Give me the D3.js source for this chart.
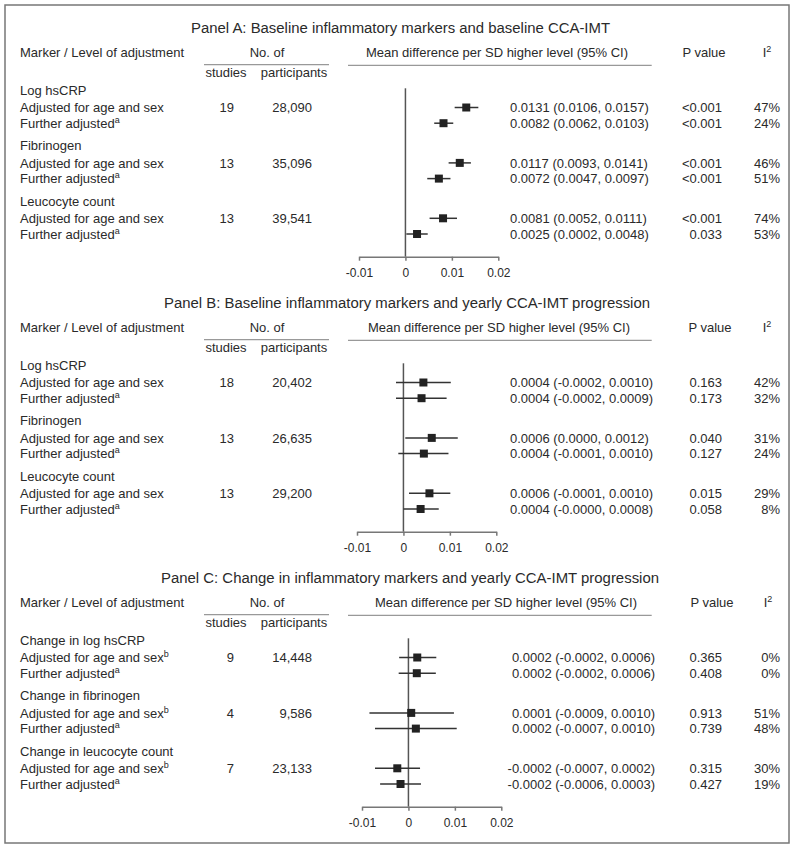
<!DOCTYPE html>
<html><head><meta charset="utf-8">
<script src="https://cdn.jsdelivr.net/npm/d3@7"></script>
<style>
body{margin:0;background:#fff;}
text{font-family:"Liberation Sans",Arial,Helvetica,sans-serif;fill:#2a2a2a;}
</style></head>
<body><svg id="chart" width="800" height="850"></svg>
<script>
// ---------- DATA ----------
const panelTitles = [
  "Panel A: Baseline inflammatory markers and baseline CCA-IMT",
  "Panel B: Baseline inflammatory markers and yearly CCA-IMT progression",
  "Panel C: Change in inflammatory markers and yearly CCA-IMT progression"
];
const markersA = ["Log hsCRP", "Fibrinogen", "Leucocyte count"];
const markersB = ["Log hsCRP", "Fibrinogen", "Leucocyte count"];
const markersC = ["Change in log hsCRP", "Change in fibrinogen", "Change in leucocyte count"];
const studiesA = ["19", "13", "13"];
const studiesB = ["18", "13", "13"];
const studiesC = ["9", "4", "7"];
const participantsA = ["28,090", "35,096", "39,541"];
const participantsB = ["20,402", "26,635", "29,200"];
const participantsC = ["14,448", "9,586", "23,133"];

// plotted estimates (as drawn on the axis)
const meanA = [0.0131, 0.0082, 0.0117, 0.0072, 0.0081, 0.0025];
const loA   = [0.0106, 0.0062, 0.0093, 0.0047, 0.0052, 0.0002];
const hiA   = [0.0157, 0.0103, 0.0141, 0.0097, 0.0111, 0.0048];
const meanB = [0.0043, 0.0039, 0.0061, 0.0044, 0.0056, 0.0037];
const loB   = [-0.0016, -0.0016, 0.0004, -0.0011, 0.0012, 0.0000];
const hiB   = [0.0102, 0.0093, 0.0117, 0.0097, 0.0101, 0.0076];
const meanC = [0.0019, 0.0018, 0.0006, 0.0016, -0.0024, -0.0017];
const loC   = [-0.0020, -0.0021, -0.0084, -0.0072, -0.0072, -0.0061];
const hiC   = [0.0060, 0.0059, 0.0098, 0.0104, 0.0025, 0.0027];

const ciTextA = ["0.0131 (0.0106, 0.0157)", "0.0082 (0.0062, 0.0103)", "0.0117 (0.0093, 0.0141)",
                 "0.0072 (0.0047, 0.0097)", "0.0081 (0.0052, 0.0111)", "0.0025 (0.0002, 0.0048)"];
const ciTextB = ["0.0004 (-0.0002, 0.0010)", "0.0004 (-0.0002, 0.0009)", "0.0006 (0.0000, 0.0012)",
                 "0.0004 (-0.0001, 0.0010)", "0.0006 (-0.0001, 0.0010)", "0.0004 (-0.0000, 0.0008)"];
const ciTextC = ["0.0002 (-0.0002, 0.0006)", "0.0002 (-0.0002, 0.0006)", "0.0001 (-0.0009, 0.0010)",
                 "0.0002 (-0.0007, 0.0010)", "-0.0002 (-0.0007, 0.0002)", "-0.0002 (-0.0006, 0.0003)"];
const pA = ["<0.001", "<0.001", "<0.001", "<0.001", "<0.001", "0.033"];
const pB = ["0.163", "0.173", "0.040", "0.127", "0.015", "0.058"];
const pC = ["0.365", "0.408", "0.913", "0.739", "0.315", "0.427"];
const i2A = ["47%", "24%", "46%", "51%", "74%", "53%"];
const i2B = ["42%", "32%", "31%", "24%", "29%", "8%"];
const i2C = ["0%", "0%", "51%", "48%", "30%", "19%"];
const tickValues = [-0.01, 0, 0.01, 0.02];
const tickLabels = ["-0.01", "0", "0.01", "0.02"];

// ---------- BUILD ----------
const panels = [
  {title: panelTitles[0], markers: markersA, studies: studiesA, parts: participantsA, mean: meanA, lo: loA, hi: hiA, ci: ciTextA, p: pA, i2: i2A, sup: false},
  {title: panelTitles[1], markers: markersB, studies: studiesB, parts: participantsB, mean: meanB, lo: loB, hi: hiB, ci: ciTextB, p: pB, i2: i2B, sup: false},
  {title: panelTitles[2], markers: markersC, studies: studiesC, parts: participantsC, mean: meanC, lo: loC, hi: hiC, ci: ciTextC, p: pC, i2: i2C, sup: true}
];
// layout (per panel)
const panelOffset = [0, 275, 550];
const plotShift = [0, -2, 3];
const titleX = [400.5, 407, 410];
const titleW = [419, 486, 498];
const meanHdrX = [497, 499, 506];
const pHdrX = [704, 710, 712];
const i2HdrX = [767, 767, 768];
const ciAnchorEnd = [false, false, true];

const svg = d3.select("#chart");
svg.append("rect").attr("x", 5).attr("y", 5).attr("width", 784).attr("height", 838)
  .attr("fill", "none").attr("stroke", "#777").attr("stroke-width", 1.5);

panels.forEach((P, pi) => {
  const g = svg.append("g").attr("transform", `translate(0,${panelOffset[pi]})`);
  const x = d3.scaleLinear().domain([-0.01, 0.02]).range([359 + plotShift[pi], 498.3 + plotShift[pi]]);

  g.append("text").attr("x", titleX[pi]).attr("y", 33.3).attr("text-anchor", "middle")
    .attr("textLength", titleW[pi]).attr("lengthAdjust", "spacingAndGlyphs")
    .style("font-size", "14px").text(P.title);

  // header
  const hy = 57.4;
  g.append("text").attr("x", 20).attr("y", hy).style("font-size", "13px").text("Marker / Level of adjustment");
  g.append("text").attr("x", 267).attr("y", hy).attr("text-anchor", "middle").style("font-size", "13px").text("No. of");
  g.append("text").attr("x", meanHdrX[pi]).attr("y", hy).attr("text-anchor", "middle").style("font-size", "13px")
    .text("Mean difference per SD higher level (95% CI)");
  g.append("text").attr("x", pHdrX[pi]).attr("y", hy).attr("text-anchor", "middle").style("font-size", "13px").text("P value");
  const i2h = g.append("text").attr("x", i2HdrX[pi]).attr("y", hy).attr("text-anchor", "middle").style("font-size", "13px");
  i2h.append("tspan").text("I");
  i2h.append("tspan").attr("dy", -5).style("font-size", "9px").text("2");
  g.append("line").attr("x1", 204).attr("x2", 329).attr("y1", 64.7).attr("y2", 64.7).attr("stroke", "#999").attr("stroke-width", 1.3);
  g.append("line").attr("x1", 348).attr("x2", 651.7).attr("y1", 65.3).attr("y2", 65.3).attr("stroke", "#999").attr("stroke-width", 1.3);
  g.append("text").attr("x", 226).attr("y", 77.4).attr("text-anchor", "middle").style("font-size", "13px").text("studies");
  g.append("text").attr("x", 294).attr("y", 77.4).attr("text-anchor", "middle").style("font-size", "13px").text("participants");

  // rows
  const groupY = k => 90 + k * 55.4;
  const rowY = i => groupY(Math.floor(i / 2)) + (i % 2 === 0 ? 17.5 : 33.2);
  const fy = 4.7;

  P.markers.forEach((m, k) => {
    g.append("text").attr("x", 20).attr("y", groupY(k) + fy).style("font-size", "13px").text(m);
    const t1 = g.append("text").attr("x", 20).attr("y", groupY(k) + 17.5 + fy).style("font-size", "13px");
    t1.append("tspan").text("Adjusted for age and sex");
    if (P.sup) t1.append("tspan").attr("dy", -5).style("font-size", "9px").text("b");
    const t2 = g.append("text").attr("x", 20).attr("y", groupY(k) + 33.2 + fy).style("font-size", "13px");
    t2.append("tspan").text("Further adjusted");
    t2.append("tspan").attr("dy", -5).style("font-size", "9px").text("a");
    g.append("text").attr("x", 234).attr("y", groupY(k) + 17.5 + fy).attr("text-anchor", "end").style("font-size", "13px").text(P.studies[k]);
    g.append("text").attr("x", 312).attr("y", groupY(k) + 17.5 + fy).attr("text-anchor", "end").style("font-size", "13px").text(P.parts[k]);
  });

  // zero line
  g.append("line").attr("x1", x(0)).attr("x2", x(0)).attr("y1", 88.3).attr("y2", 256.7)
    .attr("stroke", "#555").attr("stroke-width", 1.5);

  // axis
  const axis = d3.axisBottom(x).tickValues(tickValues).tickFormat((d, i) => tickLabels[i])
    .tickSizeInner(4).tickSizeOuter(0).tickPadding(8);
  const ax = g.append("g").attr("transform", "translate(0,256.7)").call(axis);
  ax.select(".domain").attr("stroke", "#777").attr("stroke-width", 1.5);
  ax.selectAll(".tick line").attr("stroke", "#777").attr("stroke-width", 1.5);
  ax.selectAll(".tick text").style("font-size", "12px").style("font-family", "Liberation Sans, Arial, sans-serif").attr("fill", "#2a2a2a");

  // CIs and squares
  P.mean.forEach((v, i) => {
    const y = rowY(i);
    g.append("line").attr("x1", x(P.lo[i])).attr("x2", x(P.hi[i])).attr("y1", y).attr("y2", y)
      .attr("stroke", "#333").attr("stroke-width", 1.5);
    g.append("rect").attr("x", x(v) - 4).attr("y", y - 4).attr("width", 8).attr("height", 8).attr("fill", "#222");
    const ct = g.append("text").attr("y", y + fy).style("font-size", "13px").text(P.ci[i]);
    if (ciAnchorEnd[pi]) ct.attr("x", 655).attr("text-anchor", "end"); else ct.attr("x", 510);
    g.append("text").attr("x", 722).attr("y", y + fy).attr("text-anchor", "end").style("font-size", "13px").text(P.p[i]);
    g.append("text").attr("x", 780).attr("y", y + fy).attr("text-anchor", "end").style("font-size", "13px").text(P.i2[i]);
  });
});
</script></body></html>
